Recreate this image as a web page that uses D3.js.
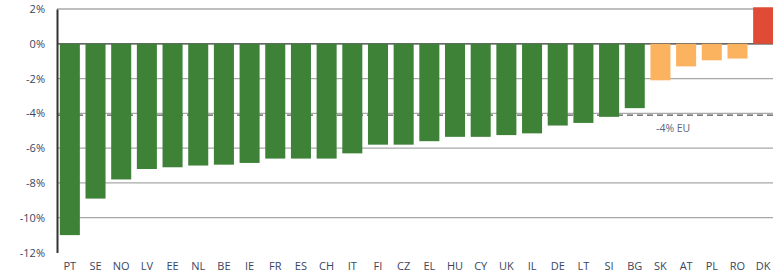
<!DOCTYPE html>
<html>
<head>
<meta charset="utf-8">
<script src="https://cdn.jsdelivr.net/npm/d3@7"></script>
<style>
  body { margin: 0; background: #fff; }
  text { font-family: "Open Sans", "DejaVu Sans", sans-serif; }
</style>
</head>
<body>
<svg id="chart" width="773" height="276"></svg>
<script>
// data (% change)
const countries = ["PT","SE","NO","LV","EE","NL","BE","IE","FR","ES","CH","IT","FI","CZ",
                   "EL","HU","CY","UK","IL","DE","LT","SI","BG","SK","AT","PL","RO","DK"];
const values = [-11.0,-8.9,-7.8,-7.2,-7.1,-7.0,-6.95,-6.85,-6.6,-6.6,-6.6,-6.3,-5.8,-5.8,
                -5.6,-5.35,-5.35,-5.25,-5.15,-4.7,-4.55,-4.2,-3.7,-2.1,-1.3,-0.95,-0.85,2.1];
const euAvg = -4.1;
const yTicks = [2, 0, -2, -4, -6, -8, -10, -12];

const svg = d3.select("#chart");
const margin = { left: 57, right: 0, top: 9, bottom: 24 };
const W = 773, H = 276;

const x = d3.scaleBand()
  .domain(countries)
  .range([margin.left, 776])
  .paddingInner(0.22)
  .paddingOuter(0.11);

const y = d3.scaleLinear()
  .domain([-12, 2])
  .range([252.5, 9]);

function barColor(v, i) {
  if (v > 0) return "#e04b35";
  if (v > euAvg + 1) return "#fbb35f";
  return "#3d8237";
}

// gridlines
svg.append("g")
  .selectAll("line")
  .data(yTicks.filter(d => d !== 0 && d !== -12))
  .join("line")
  .attr("x1", margin.left)
  .attr("x2", W)
  .attr("y1", d => y(d))
  .attr("y2", d => y(d))
  .attr("stroke", "#a8a8a8")
  .attr("stroke-width", 1.3);

// zero line
svg.append("line")
  .attr("x1", margin.left).attr("x2", W)
  .attr("y1", y(0)).attr("y2", y(0))
  .attr("stroke", "#333").attr("stroke-width", 1.3);

// EU average dashed line
svg.append("line")
  .attr("x1", margin.left).attr("x2", W)
  .attr("y1", y(euAvg)).attr("y2", y(euAvg))
  .attr("stroke", "#555").attr("stroke-width", 1.3)
  .attr("stroke-dasharray", "6,4");

// bars
svg.append("g")
  .selectAll("rect")
  .data(countries)
  .join("rect")
  .attr("x", d => x(d))
  .attr("width", x.bandwidth())
  .attr("y", (d, i) => y(Math.max(0, values[i])))
  .attr("height", (d, i) => Math.abs(y(values[i]) - y(0)))
  .attr("fill", (d, i) => barColor(values[i], i));

// y axis
const yAxis = svg.append("g")
  .attr("transform", `translate(${margin.left},0)`)
  .call(d3.axisLeft(y).tickValues(yTicks).tickSize(0).tickPadding(12)
    .tickFormat(d => d + "%"));
yAxis.select(".domain").attr("stroke", "#333").attr("stroke-width", 2);
yAxis.selectAll("text")
  .attr("font-size", 11)
  .attr("fill", "#3a4660");

// x labels
const xAxis = svg.append("g")
  .attr("transform", `translate(0,${y(-12)})`)
  .call(d3.axisBottom(x).tickSize(0).tickPadding(10));
xAxis.select(".domain").remove();
xAxis.selectAll("text")
  .attr("font-size", 11)
  .attr("fill", "#3a4660");

// EU label
svg.append("text")
  .attr("x", 656)
  .attr("y", y(euAvg) + 17)
  .attr("font-size", 10.5)
  .attr("fill", "#5b6478")
  .text("-4% EU");
</script>
</body>
</html>
